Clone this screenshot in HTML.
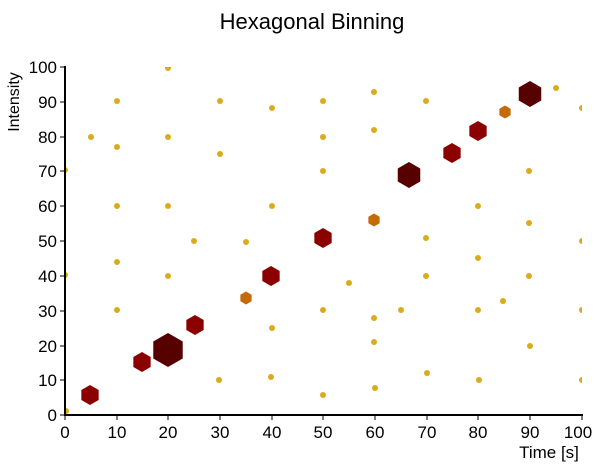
<!DOCTYPE html>
<html><head><style>body{margin:0;background:#fff}svg{display:block;font-family:"Liberation Sans",sans-serif}</style></head><body>
<svg width="608" height="470" viewBox="0 0 608 470">
<defs>
<clipPath id="c"><rect x="65" y="67" width="517" height="348"/></clipPath>
<polygon id="h" points="0,-1 0.866,-0.5 0.866,0.5 0,1 -0.866,0.5 -0.866,-0.5"/>
</defs>
<text x="312" y="29" font-size="22" text-anchor="middle">Hexagonal Binning</text>
<g clip-path="url(#c)" fill="#dcab1c">
<circle cx="66" cy="411" r="3"/><circle cx="65" cy="170" r="3"/><circle cx="65" cy="275" r="3"/>
<circle cx="91" cy="137" r="3"/>
<circle cx="117" cy="101" r="3"/><circle cx="117" cy="147" r="3"/><circle cx="117" cy="206" r="3"/><circle cx="117" cy="262" r="3"/><circle cx="117" cy="310" r="3"/>
<circle cx="168" cy="68" r="3"/><circle cx="168" cy="137" r="3"/><circle cx="168" cy="206" r="3"/><circle cx="168" cy="276" r="3"/>
<circle cx="194" cy="241" r="3"/><circle cx="220" cy="101" r="3"/><circle cx="220" cy="154" r="3"/><circle cx="219" cy="380" r="3"/>
<circle cx="246" cy="242" r="3"/>
<circle cx="272" cy="108" r="3"/><circle cx="272" cy="206" r="3"/><circle cx="272" cy="328" r="3"/><circle cx="271" cy="377" r="3"/>
<circle cx="323" cy="101" r="3"/><circle cx="323" cy="137" r="3"/><circle cx="323" cy="171" r="3"/><circle cx="323" cy="310" r="3"/><circle cx="323" cy="395" r="3"/>
<circle cx="349" cy="283" r="3"/>
<circle cx="374" cy="92" r="3"/><circle cx="374" cy="130" r="3"/><circle cx="374" cy="318" r="3"/><circle cx="374" cy="342" r="3"/><circle cx="375" cy="388" r="3"/>
<circle cx="401" cy="310" r="3"/>
<circle cx="426" cy="101" r="3"/><circle cx="426" cy="238" r="3"/><circle cx="426" cy="276" r="3"/><circle cx="427" cy="373" r="3"/>
<circle cx="478" cy="206" r="3"/><circle cx="478" cy="258" r="3"/><circle cx="478" cy="310" r="3"/><circle cx="479" cy="380" r="3"/>
<circle cx="503" cy="301" r="3"/>
<circle cx="529" cy="171" r="3"/><circle cx="529" cy="223" r="3"/><circle cx="529" cy="276" r="3"/><circle cx="530" cy="346" r="3"/>
<circle cx="556" cy="88" r="3"/>
<circle cx="582" cy="108" r="3"/><circle cx="582" cy="241" r="3"/><circle cx="582" cy="310" r="3"/><circle cx="582" cy="380" r="3"/>
</g>
<g fill="#8b0000">
<use href="#h" transform="translate(90,395) scale(10)"/>
<use href="#h" transform="translate(142,362) scale(10)"/>
<use href="#h" transform="translate(195,325) scale(10)"/>
<use href="#h" transform="translate(271,276) scale(10)"/>
<use href="#h" transform="translate(323,238) scale(10)"/>
<use href="#h" transform="translate(452,153) scale(10)"/>
<use href="#h" transform="translate(478,131) scale(10)"/>
</g>
<g fill="#560000">
<use href="#h" transform="translate(168,350) scale(17)"/>
<use href="#h" transform="translate(409,175) scale(13)"/>
<use href="#h" transform="translate(530,94) scale(13)"/>
</g>
<g fill="#c46a06">
<use href="#h" transform="translate(246,298) scale(6.5)"/>
<use href="#h" transform="translate(374,220) scale(6.5)"/>
<use href="#h" transform="translate(505,112) scale(6.5)"/>
</g>
<g stroke="#000" stroke-width="2" fill="none">
<path d="M65,66V415H583"/>
</g>
<g stroke="#000" stroke-width="1">
<path d="M65,415v5M117,415v5M168,415v5M220,415v5M272,415v5M323,415v5M375,415v5M427,415v5M478,415v5M530,415v5M582,415v5"/>
<path d="M60,415h5M60,380h5M60,346h5M60,311h5M60,276h5M60,241h5M60,206h5M60,171h5M60,137h5M60,102h5M60,67h5"/>
</g>
<g font-size="17" text-anchor="middle">
<text x="65" y="438">0</text><text x="117" y="438">10</text><text x="168" y="438">20</text><text x="220" y="438">30</text><text x="272" y="438">40</text><text x="323" y="438">50</text><text x="375" y="438">60</text><text x="427" y="438">70</text><text x="478" y="438">80</text><text x="530" y="438">90</text><text x="578" y="438">100</text>
</g>
<g font-size="17" text-anchor="end">
<text x="57" y="421">0</text><text x="57" y="386">10</text><text x="57" y="352">20</text><text x="57" y="317">30</text><text x="57" y="282">40</text><text x="57" y="247">50</text><text x="57" y="212">60</text><text x="57" y="177">70</text><text x="57" y="143">80</text><text x="57" y="108">90</text><text x="57" y="73">100</text>
</g>
<text x="549" y="458" font-size="17" text-anchor="middle">Time [s]</text>
<text transform="translate(19,102) rotate(-90)" font-size="16" text-anchor="middle">Intensity</text>
</svg>
</body></html>
